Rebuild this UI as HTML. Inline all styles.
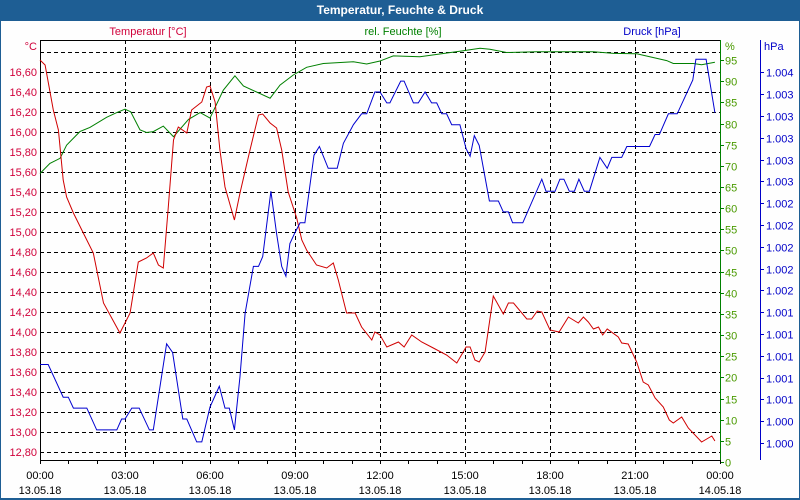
<!DOCTYPE html>
<html><head><meta charset="utf-8"><style>
html,body{margin:0;padding:0;background:#fff;}
#wrap{position:relative;width:800px;height:500px;overflow:hidden;font-family:"Liberation Sans","DejaVu Sans",sans-serif;}
svg text{font-family:"Liberation Sans","DejaVu Sans",sans-serif;font-size:11px;}
</style></head><body>
<div id="wrap">
<svg id="chart" width="800" height="500" viewBox="0 0 800 500">
<rect x="0" y="0" width="800" height="500" fill="#1e5e94"/>
<rect x="1" y="21" width="798" height="477" fill="#fefefe"/>
<text x="400" y="14" fill="#fff" text-anchor="middle" font-weight="bold" style="font-size:12px">Temperatur, Feuchte &amp; Druck</text>
<text x="148" y="35" fill="#d0003a" text-anchor="middle">Temperatur [°C]</text>
<text x="403" y="35" fill="#008000" text-anchor="middle">rel. Feuchte [%]</text>
<text x="652" y="35" fill="#0000c8" text-anchor="middle">Druck [hPa]</text>
<text x="37" y="50" fill="#d0003a" text-anchor="end">°C</text>
<text x="725" y="50" fill="#4a9a00">%</text>
<text x="764" y="50" fill="#0000c8">hPa</text>
<g id="grid"></g>
<g id="axes"></g>
<g id="series"></g>
</svg>
</div>
<script>
// ---- data ----
const hoursT=[0,0.18,0.47,0.65,0.82,0.94,1.18,1.53,1.88,2.24,2.82,3.18,3.47,3.76,4.0,4.18,4.35,4.53,4.71,4.88,5.18,5.35,5.71,5.88,6.0,6.18,6.35,6.53,6.86,7.06,7.41,7.71,7.86,8.12,8.35,8.53,8.76,9.06,9.24,9.41,9.76,10.12,10.35,10.53,10.82,11.12,11.35,11.71,11.82,12.0,12.24,12.65,12.85,13.12,13.47,13.88,14.35,14.71,15.04,15.18,15.35,15.5,15.71,16.0,16.35,16.53,16.71,17.18,17.35,17.55,17.71,18.0,18.32,18.65,19.0,19.18,19.35,19.53,19.71,19.86,20.02,20.41,20.53,20.76,21.06,21.29,21.47,21.71,22.0,22.21,22.35,22.65,22.88,23.35,23.71,23.82];
const temps=[16.72,16.67,16.22,16.02,15.52,15.35,15.19,14.99,14.79,14.29,13.99,14.19,14.70,14.74,14.79,14.67,14.64,15.25,15.92,16.05,15.99,16.22,16.30,16.45,16.46,16.30,15.82,15.45,15.12,15.39,15.82,16.17,16.18,16.09,16.04,15.82,15.40,15.14,14.92,14.82,14.67,14.64,14.69,14.52,14.19,14.19,14.05,13.92,14.0,13.97,13.85,13.90,13.85,13.97,13.90,13.84,13.77,13.69,13.85,13.85,13.72,13.70,13.80,14.36,14.18,14.29,14.29,14.13,14.13,14.21,14.20,14.02,14.0,14.15,14.09,14.15,14.10,14.03,14.05,13.97,14.03,13.95,13.89,13.88,13.70,13.50,13.47,13.34,13.25,13.12,13.09,13.15,13.04,12.90,12.96,12.91];
const hoursH=[0,0.35,0.71,0.94,1.41,1.76,2.35,2.71,3.0,3.2,3.53,3.76,4.0,4.35,4.71,5.24,5.65,6.0,6.47,6.88,7.18,8.12,8.47,8.94,9.41,10.0,11.06,11.53,12.0,12.47,13.41,14.94,15.53,15.88,16.47,17.53,19.53,20.24,21.06,22.12,22.35,23.06,23.35,23.82];
const humidity=[68.2,70.6,71.8,74.9,78.1,79.1,81.5,82.6,83.4,82.8,78.5,77.9,78.1,79.4,76.9,81.0,82.6,81.3,87.9,91.3,88.9,86.0,89.1,91.5,93.3,94.2,94.6,94.1,94.8,96.0,95.8,97.2,97.8,97.6,96.8,97.0,97.0,96.6,96.5,94.9,94.2,94.2,93.9,94.5];
const hoursP=[0,0.29,0.82,1.0,1.18,1.65,2.0,2.71,2.88,3.0,3.24,3.5,3.86,4.0,4.47,4.68,5.04,5.18,5.53,5.71,6.0,6.33,6.53,6.68,6.86,7.06,7.24,7.53,7.71,7.86,8.15,8.35,8.53,8.68,8.82,9.0,9.18,9.35,9.67,9.86,10.17,10.49,10.71,11.06,11.35,11.53,11.82,12.0,12.24,12.35,12.73,12.85,13.18,13.35,13.59,13.82,14.0,14.18,14.35,14.53,14.82,15.04,15.18,15.33,15.5,15.86,16.18,16.35,16.53,16.68,17.04,17.71,17.86,18.18,18.35,18.49,18.68,18.86,19.02,19.21,19.39,19.76,20.02,20.18,20.53,20.71,21.51,21.71,21.86,22.18,22.49,23.04,23.15,23.51,23.82];
const pressure=[1000.92,1000.92,1000.62,1000.62,1000.52,1000.52,1000.32,1000.32,1000.42,1000.42,1000.52,1000.52,1000.32,1000.32,1001.11,1001.03,1000.42,1000.42,1000.21,1000.21,1000.53,1000.72,1000.52,1000.52,1000.32,1000.81,1001.39,1001.82,1001.82,1001.91,1002.51,1002.12,1001.82,1001.73,1002.03,1002.13,1002.22,1002.22,1002.84,1002.92,1002.72,1002.72,1002.95,1003.12,1003.22,1003.22,1003.42,1003.42,1003.32,1003.32,1003.52,1003.52,1003.32,1003.32,1003.42,1003.32,1003.32,1003.22,1003.22,1003.12,1003.12,1002.90,1002.83,1003.02,1002.93,1002.42,1002.42,1002.32,1002.32,1002.22,1002.22,1002.62,1002.51,1002.51,1002.62,1002.62,1002.51,1002.51,1002.62,1002.51,1002.51,1002.82,1002.72,1002.82,1002.82,1002.92,1002.92,1003.03,1003.03,1003.22,1003.22,1003.53,1003.72,1003.72,1003.23];
const tempTicks=[12.8,13.0,13.2,13.4,13.6,13.8,14.0,14.2,14.4,14.6,14.8,15.0,15.2,15.4,15.6,15.8,16.0,16.2,16.4,16.6];
const humTicks=[0,5,10,15,20,25,30,35,40,45,50,55,60,65,70,75,80,85,90,95];
const presTicks=[1000.2,1000.4,1000.6,1000.8,1001.0,1001.2,1001.4,1001.6,1001.8,1002.0,1002.2,1002.4,1002.6,1002.8,1003.0,1003.2,1003.4,1003.6];
const timeTicks=[0,3,6,9,12,15,18,21,24];
const timeLabels=["00:00","03:00","06:00","09:00","12:00","15:00","18:00","21:00","00:00"];
const dateLabels=["13.05.18","13.05.18","13.05.18","13.05.18","13.05.18","13.05.18","13.05.18","13.05.18","14.05.18"];

// ---- scales ----
const X0=40,X1=720,Y0=40,Y1=460;
const xS=h=>X0+h*(X1-X0)/24;
const yT=t=>452-(t-12.8)*100;
const yH=v=>462-v*4.23;
const yP=p=>443-(p-1000.2)/0.2*21.8;
const NS="http://www.w3.org/2000/svg";
function mk(tag,attrs,parent){const e=document.createElementNS(NS,tag);for(const k in attrs)e.setAttribute(k,attrs[k]);parent.appendChild(e);return e;}
const grid=document.getElementById('grid'),axes=document.getElementById('axes'),series=document.getElementById('series');
const fmt=v=>v.toFixed(2).replace('.',',');
const fmtP=p=>'1.00'+Math.round(p-1000);

// horizontal grid (temperature)
for(let t=12.8;t<=16.81;t+=0.2){
  const y=Math.round(yT(t))+0.5;
  const l=mk('line',{x1:X0,x2:X1,y1:y,y2:y,stroke:'#000','stroke-dasharray':'4,3','stroke-width':1},grid);
  
  
}
// vertical grid
timeTicks.slice(1,-1).forEach(h=>{
  const x=Math.round(xS(h))+0.5;
  const l=mk('line',{x1:x,x2:x,y1:Y0,y2:Y1,stroke:'#000','stroke-dasharray':'4,3','stroke-width':1},grid);
  
  
});
// frame lines
let e;
e=mk('line',{x1:X0,x2:X1,y1:Y0+0.5,y2:Y0+0.5,stroke:'#000'},axes);


e=mk('line',{x1:X0+0.5,x2:X0+0.5,y1:Y0,y2:Y1,stroke:'#000'},axes);


e=mk('line',{x1:X0,x2:X1,y1:Y1+0.5,y2:Y1+0.5,stroke:'#000'},axes);


e=mk('line',{x1:X1+0.5,x2:X1+0.5,y1:Y0,y2:Y1,stroke:'#008000'},axes);


e=mk('line',{x1:760.5,x2:760.5,y1:Y0,y2:Y1,stroke:'#0000c8'},axes);



// temp ticks
tempTicks.forEach(t=>{
  const y=yT(t);
  e=mk('text',{x:37,y:y+4,fill:'#d0003a','text-anchor':'end'},axes);e.textContent=fmt(t);
  
  
});
// humidity ticks
humTicks.forEach(v=>{
  const y=Math.round(yH(v))+0.5;
  e=mk('line',{x1:X1,x2:X1+4,y1:y,y2:y,stroke:'#008000'},axes);
  
  
  e=mk('text',{x:725,y:y+4,fill:'#4a9a00'},axes);e.textContent=v;
  
  
});
// pressure ticks
presTicks.forEach(p=>{
  const y=Math.round(yP(p))+0.5;
  e=mk('line',{x1:760,x2:764,y1:y,y2:y,stroke:'#0000c8'},axes);
  
  
  e=mk('text',{x:766,y:y+4,fill:'#0000c8'},axes);e.textContent=fmtP(p);
  
  
});
// time ticks (hourly minor)
for(let h=0;h<=24;h++){
  const x=Math.round(xS(h))+0.5;
  e=mk('line',{x1:x,x2:x,y1:Y1,y2:Y1+4,stroke:'#000'},axes);
  
  
}
timeTicks.forEach((h,i)=>{
  const x=xS(h);
  e=mk('text',{x:x,y:479,fill:'#000','text-anchor':'middle'},axes);e.textContent=timeLabels[i];
  
  
  e=mk('text',{x:x,y:494,fill:'#000','text-anchor':'middle'},axes);e.textContent=dateLabels[i];
  
  
});

function line(hs,vs,ys,color){
  return hs.map((h,i)=>xS(h).toFixed(1)+','+ys(vs[i]).toFixed(1)).join(' ');
}
e=mk('polyline',{points:line(hoursH,humidity,yH),fill:'none',stroke:'#008000','stroke-width':1},series);


e=mk('polyline',{points:line(hoursT,temps,yT),fill:'none',stroke:'#d00000','stroke-width':1},series);


e=mk('polyline',{points:line(hoursP,pressure,yP),fill:'none',stroke:'#0000d0','stroke-width':1},series);


</script>
</body></html>
